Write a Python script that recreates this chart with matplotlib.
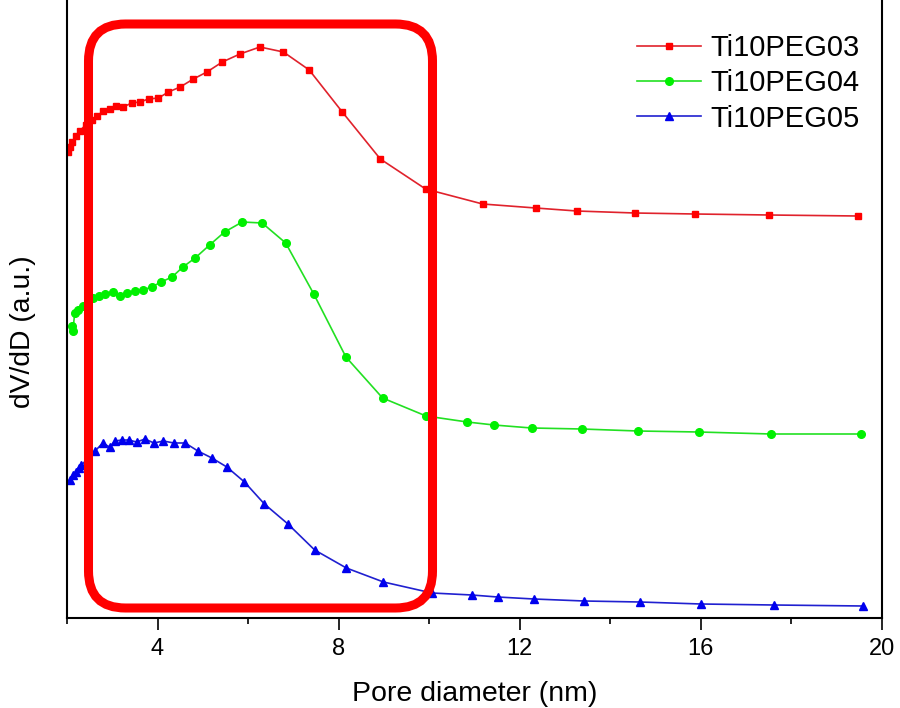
import matplotlib
matplotlib.use("Agg")
import matplotlib.pyplot as plt
from matplotlib.patches import FancyBboxPatch
from matplotlib.ticker import MultipleLocator

plt.rcParams['font.family'] = ['Liberation Sans', 'DejaVu Sans']

# pore diameter (nm) and dV/dD (a.u.)
d_03 = [2.03, 2.06, 2.12, 2.19, 2.28, 2.41, 2.55, 2.67, 2.80, 2.94, 3.09, 3.24, 3.43,
        3.61, 3.80, 4.02, 4.24, 4.50, 4.79, 5.09, 5.43, 5.82, 6.26, 6.78, 7.35, 8.08,
        8.92, 9.92, 11.18, 12.35, 13.26, 14.54, 15.87, 17.51, 19.47]
v_03 = [4.66, 4.71, 4.76, 4.82, 4.87, 4.93, 4.98, 5.02, 5.07, 5.09, 5.12, 5.11, 5.15,
        5.16, 5.19, 5.20, 5.26, 5.31, 5.39, 5.46, 5.56, 5.64, 5.71, 5.66, 5.48, 5.06,
        4.59, 4.29, 4.14, 4.10, 4.07, 4.05, 4.04, 4.03, 4.02]

d_04 = [2.10, 2.13, 2.17, 2.25, 2.35, 2.58, 2.71, 2.84, 3.01, 3.16, 3.32, 3.50, 3.67,
        3.87, 4.08, 4.32, 4.56, 4.83, 5.15, 5.48, 5.87, 6.31, 6.83, 7.45, 8.16, 8.97,
        9.93, 10.84, 11.43, 12.26, 13.37, 14.61, 15.95, 17.55, 19.53]
v_04 = [2.92, 2.87, 3.05, 3.08, 3.12, 3.20, 3.22, 3.24, 3.26, 3.22, 3.25, 3.27, 3.28,
        3.31, 3.36, 3.41, 3.51, 3.60, 3.73, 3.86, 3.96, 3.95, 3.75, 3.24, 2.61, 2.20,
        2.02, 1.96, 1.93, 1.90, 1.89, 1.87, 1.86, 1.84, 1.84]

d_05 = [2.07, 2.13, 2.19, 2.27, 2.32, 2.62, 2.79, 2.94, 3.06, 3.21, 3.36, 3.54, 3.72,
        3.92, 4.13, 4.36, 4.61, 4.89, 5.20, 5.53, 5.92, 6.36, 6.88, 7.47, 8.17, 8.99,
        10.06, 10.94, 11.51, 12.31, 13.42, 14.65, 16.00, 17.61, 19.58]
v_05 = [1.38, 1.43, 1.46, 1.50, 1.53, 1.67, 1.75, 1.71, 1.77, 1.78, 1.78, 1.76, 1.79,
        1.75, 1.77, 1.75, 1.75, 1.67, 1.60, 1.51, 1.36, 1.14, 0.94, 0.68, 0.50, 0.36,
        0.25, 0.23, 0.21, 0.19, 0.17, 0.16, 0.14, 0.13, 0.12]

fig = plt.figure(figsize=(9, 7.08), dpi=100)
ax = fig.add_axes([67 / 900, 90 / 708, 815 / 900, 618 / 708])

ax.plot(d_03, v_03, '-s', color='#e0222c', mfc='#ff0000', mec='#ff0000',
        lw=1.2, ms=5, label='Ti10PEG03')
ax.plot(d_04, v_04, '-o', color='#22e022', mfc='#00f000', mec='#00f000',
        lw=1.2, ms=5.5, label='Ti10PEG04')
ax.plot(d_05, v_05, '-^', color='#2020d0', mfc='#0000ee', mec='#0000ee',
        lw=1.2, ms=6, label='Ti10PEG05')

ax.set_xlim(2, 20)
ax.set_ylim(0, 6.18)
ax.xaxis.set_major_locator(MultipleLocator(4))
ax.xaxis.set_minor_locator(MultipleLocator(2))
ax.set_yticks([])
ax.tick_params(axis='x', which='major', direction='out', length=8.5, width=1.2,
               labelsize=17, pad=6)
ax.tick_params(axis='x', which='minor', direction='out', length=4, width=1.2)
ax.spines['top'].set_visible(False)
for s in ['left', 'right', 'bottom']:
    ax.spines[s].set_linewidth(1.5)

ax.set_xlabel('Pore diameter (nm)', fontsize=20.5, labelpad=15)
ax.set_ylabel('dV/dD (a.u.)', fontsize=20.3)
ax.yaxis.set_label_coords(-0.038, 0.463)

ax.legend(loc='upper right', frameon=False, fontsize=21, handlelength=2.2,
          handletextpad=0.3, labelspacing=0.25, borderaxespad=0.3,
          bbox_to_anchor=(0.997, 0.978))

# highlight box around the 2-10 nm region
box = FancyBboxPatch((0.885, 1.0), 3.44, 5.84,
                     boxstyle='round,pad=0,rounding_size=0.37',
                     transform=fig.dpi_scale_trans, fill=False,
                     edgecolor='#ff0000', linewidth=6.5, zorder=10)
fig.patches.append(box)

fig.savefig('out.png', dpi=100)
